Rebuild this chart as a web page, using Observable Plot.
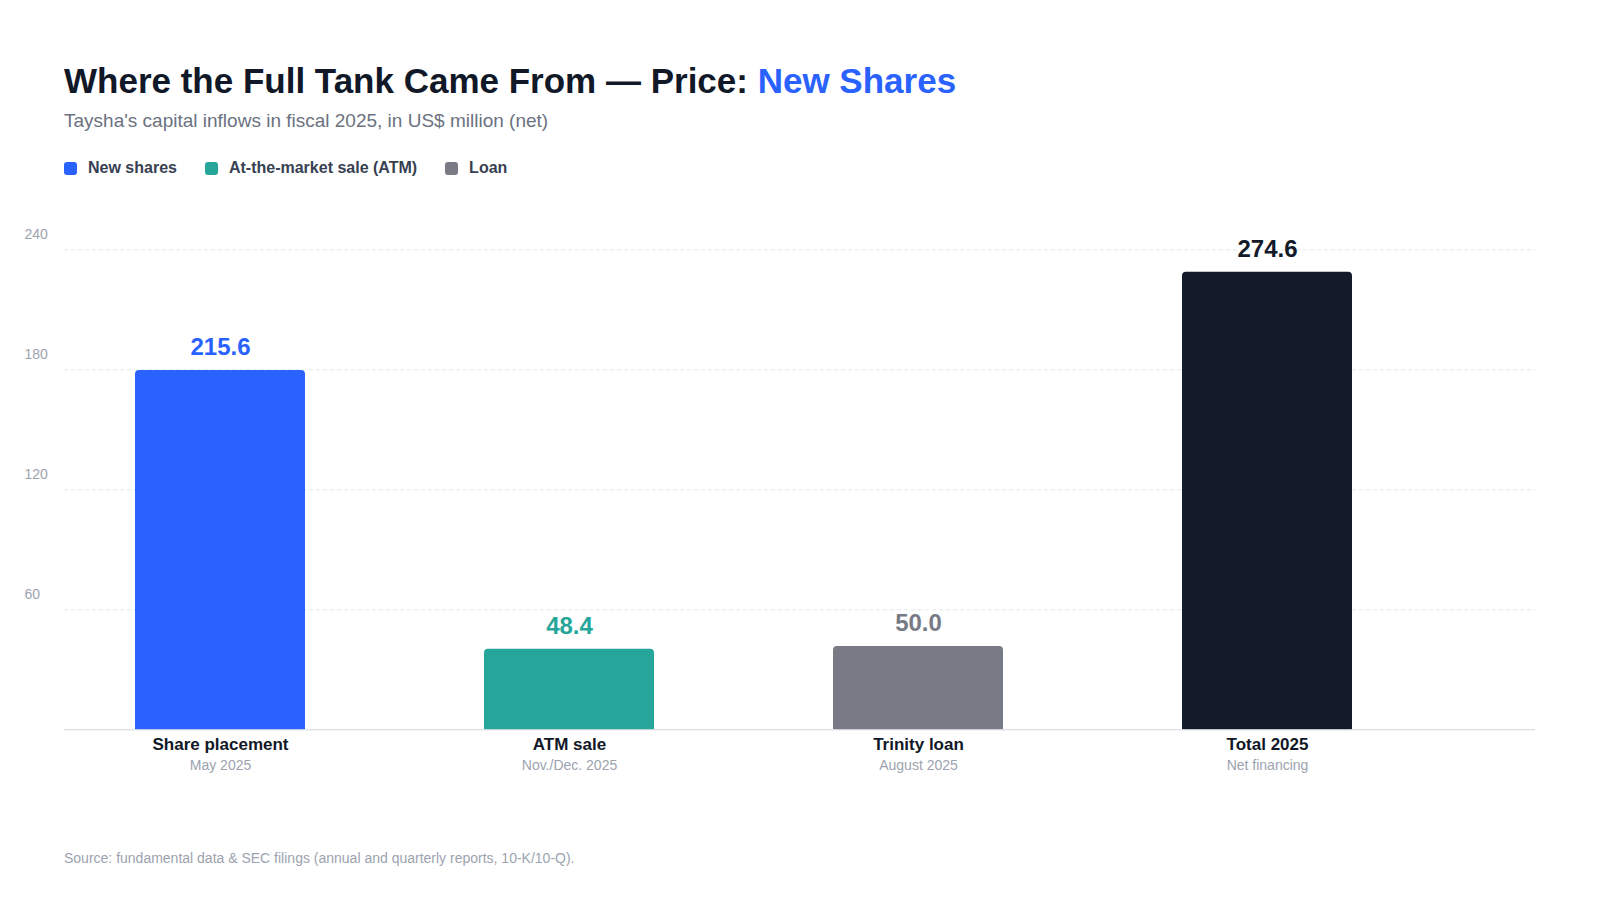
<!DOCTYPE html>
<html><head><meta charset="utf-8">
<script src="https://cdn.jsdelivr.net/npm/d3@7"></script>
<script src="https://cdn.jsdelivr.net/npm/@observablehq/plot@0.6"></script>
<style>
body{margin:0;background:#fff;font-family:"Liberation Sans",Arial,Helvetica,sans-serif;}
#wrap{position:relative;width:1600px;height:900px;overflow:hidden;}
.abs{position:absolute;white-space:nowrap;line-height:1;}
#legend{display:flex;align-items:center;}
.item{display:flex;align-items:center;margin-right:28px;font-size:16px;font-weight:700;color:#374151;}
.sw{width:13px;height:13px;border-radius:3px;margin-right:11px;}
#chart{position:absolute;left:0;top:190px;}
</style></head><body>
<div id="wrap">
  <div class="abs" id="title" style="left:64px;top:63px;font-size:35px;font-weight:700;color:#111827">Where the Full Tank Came From — Price: <span style="color:#2962ff">New Shares</span></div>
  <div class="abs" id="subtitle" style="left:64px;top:111px;font-size:19px;color:#6b7280">Taysha's capital inflows in fiscal 2025, in US$ million (net)</div>
  <div class="abs" id="legend" style="left:64px;top:160px;"></div>
  <div id="chart"></div>
  <div class="abs" id="source" style="left:64px;top:851px;font-size:14px;color:#9ca3af">Source: fundamental data &amp; SEC filings (annual and quarterly reports, 10-K/10-Q).</div>
</div>
<script>
const categories = ["Share placement", "ATM sale", "Trinity loan", "Total 2025"];
const subLabels = ["May 2025", "Nov./Dec. 2025", "August 2025", "Net financing"];
const values = [215.6, 48.4, 50.0, 274.6];
const valueLabels = ["215.6", "48.4", "50.0", "274.6"];
const barColors = ["#2962ff", "#26a69a", "#787b86", "#131a2a"];
const tickValues = [72, 144, 216, 288];
const tickLabels = ["60", "120", "180", "240"];
const legendLabels = ["New shares", "At-the-market sale (ATM)", "Loan"];
const legendColors = ["#2962ff", "#26a69a", "#787b86"];

const legend = document.getElementById("legend");
legendLabels.forEach((l, i) => {
  const it = document.createElement("div");
  it.className = "item";
  const sw = document.createElement("div");
  sw.className = "sw";
  sw.style.background = legendColors[i];
  it.appendChild(sw);
  it.appendChild(document.createTextNode(l));
  legend.appendChild(it);
});

const data = categories.map((c, i) => ({cat: c, sub: subLabels[i], value: values[i], label: valueLabels[i], color: barColors[i]}));
const ticks = tickValues.map((v, i) => ({v, label: tickLabels[i]}));

const chart = Plot.plot({
  width: 1600,
  height: 640,
  marginLeft: 64,
  marginRight: 65,
  marginTop: 39.3,
  marginBottom: 100.7,
  style: {fontFamily: "'Liberation Sans', Arial, Helvetica, sans-serif", background: "#fff"},
  x: {domain: categories, paddingInner: 0.5143, paddingOuter: 0.3586, align: 0.279, axis: null},
  y: {domain: [0, 300], axis: null},
  color: {type: "identity"},
  marks: [
    Plot.ruleY(ticks, {y: "v", stroke: "#e5e7eb", strokeDasharray: "4,3"}),
    Plot.text(ticks, {y: "v", text: "label", frameAnchor: "left", textAnchor: "start", dx: -40, dy: -15, fill: "#9ca3af", fontSize: 14}),
    Plot.barY(data, {x: "cat", y: "value", fill: "color", rx: 4}),
    Plot.barY(data, {x: "cat", y1: 0, y2: d => d.value / 2, fill: "color"}),
    Plot.ruleY([0], {stroke: "#d1d5db", strokeWidth: 1}),
    Plot.text(data, {x: "cat", y: "value", text: "label", fill: "color", dy: -15, lineAnchor: "bottom", fontSize: 24, fontWeight: 700}),
    Plot.text(data, {x: "cat", y: () => 0, text: "cat", dy: 20, lineAnchor: "bottom", fontSize: 17, fontWeight: 700, fill: "#111827"}),
    Plot.text(data, {x: "cat", y: () => 0, text: "sub", dy: 40, lineAnchor: "bottom", fontSize: 14, fill: "#9ca3af"})
  ]
});
document.getElementById("chart").appendChild(chart);
</script>
</body></html>
